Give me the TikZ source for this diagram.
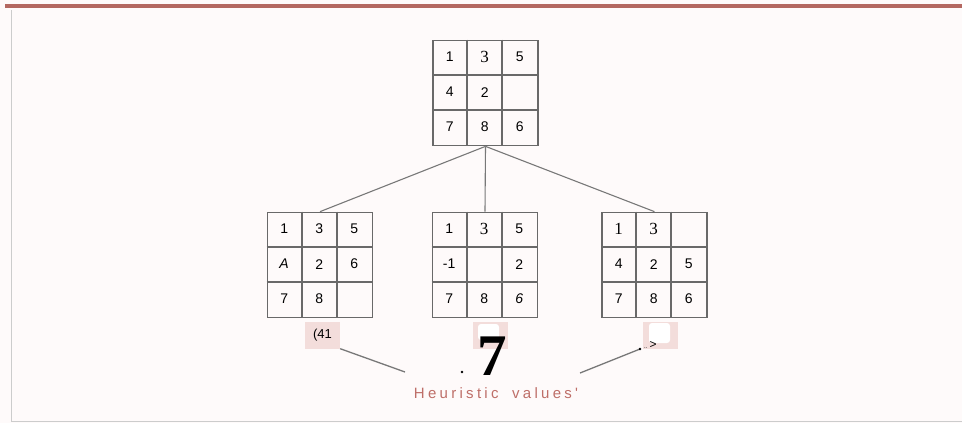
\documentclass[tikz,border=0pt]{standalone}
\usepackage{fontspec}
\setsansfont{Liberation Sans}
\newfontfamily\timesfont{Liberation Serif}
\newfontfamily\spacedfont[LetterSpace=22,WordSpace=1.8]{Liberation Sans}
\usetikzlibrary{positioning}

\definecolor{barred}{RGB}{180,104,97}
\definecolor{valpink}{RGB}{243,221,219}
\definecolor{captionred}{RGB}{190,110,104}
\definecolor{paper}{RGB}{254,250,250}
\definecolor{gridgray}{RGB}{105,105,105}
\definecolor{edgegray}{RGB}{120,120,120}

\newcommand{\serifdig}{\timesfont\fontsize{17}{17}\selectfont}

\tikzset{
  board/.style={draw=gridgray, line width=1.7pt, minimum size=105pt, inner sep=0pt},
  gridline/.style={draw=gridgray, line width=1.7pt},
  cell/.style={font=\sffamily\fontsize{14}{14}\selectfont, inner sep=0pt},
  edge/.style={draw=edgegray, line width=1.1pt},
  valbox/.style={fill=valpink, minimum width=35pt, minimum height=27pt, inner sep=0pt, font=\sffamily\fontsize{13}{13}\selectfont},
  note/.style={draw=edgegray, line width=1.3pt},
}

% one 3x3 board: name, x, y, entries
\newcommand{\drawboard}[4]{%
  \node[board] (#1) at (#2,#3) {};
  \foreach \k in {1,2}{
    \draw[gridline] ([xshift=\k*35pt]#1.north west) -- ([xshift=\k*35pt]#1.south west);
    \draw[gridline] ([yshift=-\k*35pt]#1.north west) -- ([yshift=-\k*35pt]#1.north east);
  }
  \foreach \t [count=\i from 0] in {#4}{
    \pgfmathtruncatemacro\bcol{mod(\i,3)}
    \pgfmathtruncatemacro\brow{div(\i,3)}
    \node[cell] (#1-\i) at ([xshift=17.5pt+\bcol*35pt, yshift=-17.5pt-\brow*35pt]#1.north west) {\t};
  }
}

\begin{document}
\begin{tikzpicture}[x=1pt, y=-1pt]

    % Page
    \fill[paper] (0,0) rectangle (962,423);
    \useasboundingbox (0,0) rectangle (962,423);
    \fill[barred] (5,3.5) rectangle (962,7.5);
    \draw[gray!40, line width=0.8pt] (11,10) -- (11,421) -- (962,421);

    % Boards
    \drawboard{top}{485.5}{93}{1,{\serifdig 3},5,4,2,{},7,8,6}
    \drawboard{left}{320}{265}{1,3,5,{\itshape A},2,6,7,8,{}}
    \drawboard{middle}{485}{265}{1,{\serifdig 3},5,-1,{},2,7,8,{\itshape 6}}
    \drawboard{right}{654.5}{265}{{\serifdig 1},{\serifdig 3},{},4,2,5,7,8,6}

    % Tree edges
    \draw[edge] (top.south) -- (left.north);
    \draw[edge] (top.south) -- (middle.north);
    \draw[edge] (top.south) -- (right.north);

    % Heuristic values
    \node[valbox] (lval) at (322.5,335) {(41};
    \node[valbox] (mval) at (490.5,335) {};
    \node[valbox] (rval) at (660.5,335) {};
    \fill[white, rounded corners=3pt] (478,324) rectangle (499,340);
    \fill[white, rounded corners=3pt] (649,323) rectangle (670,343);

    % Annotation
    \coordinate (lend) at (405,372);
    \coordinate (rend) at (580,373);
    \coordinate (rtip) at (640,349);
    \draw[note] (lval.south east) -- (lend);
    \draw[note] (rend) -- (rtip);
    \fill (462,372) circle (1.4pt);
    \fill (rtip) circle (1.4pt);
    \node[font=\sffamily\fontsize{12}{12}\selectfont, anchor=west, inner sep=0pt] (tip) at (644,345) {{\fontsize{6}{6}\selectfont ..}\,>};
    \node[font=\timesfont\bfseries\fontsize{59}{59}\selectfont, inner sep=0pt] (seven) at (492,356) {7};
    \node[font=\spacedfont\fontsize{15}{15}\selectfont, text=captionred, inner sep=0pt] (hv) at (496,393) {Heuristic values'};

\end{tikzpicture}
\end{document}
